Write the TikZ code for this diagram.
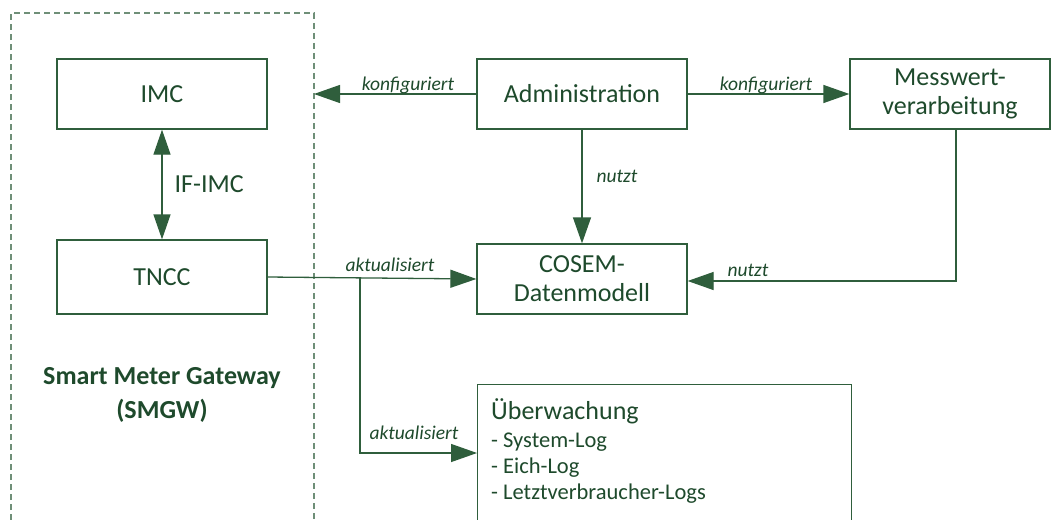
\documentclass[tikz,border=0pt]{standalone}
\usepackage{fontspec}
\setmainfont{Carlito}
\usetikzlibrary{arrows.meta,calc}
\definecolor{tgreen}{HTML}{1E4A2C}
\definecolor{lgreen}{HTML}{2F5E3C}
\definecolor{dgreen}{HTML}{6F8F78}
\begin{document}
\begin{tikzpicture}[x=1pt,y=-1pt,
  box/.style={draw=lgreen,line width=1.3pt,minimum width=210pt,minimum height=70pt,inner sep=0pt,
    text=tgreen,font=\fontsize{26}{29}\selectfont,align=center},
  lbl/.style={text=tgreen,font=\fontsize{19.5}{22}\selectfont\itshape,inner sep=0pt},
  conn/.style={draw=lgreen,line width=1.3pt,-{Triangle[length=26pt,width=18pt]}},
  conn2/.style={draw=lgreen,line width=1.3pt,{Triangle[length=25pt,width=17pt]}-{Triangle[length=25pt,width=17pt]}}
]
\useasboundingbox (0,0) rectangle (1051,519);
\clip (0,0) rectangle (1051,519);
\fill[white] (0,0) rectangle (1051,519);
% dashed gateway frame
\draw[dgreen,line width=1.3pt,dash pattern=on 6pt off 4pt] (11,530) -- (11,13) -- (314,13) -- (314,530);
\node[box] (imc) at (162,94) {IMC};
\node[box,minimum height=74pt] (tncc) at (162,277) {TNCC};
\node[box] (adm) at (582,94) {Administration};
\node[box,minimum width=200pt] (mess) at (950,94) {Messwert-\\verarbeitung};
\node[box] (cosem) at (582,279) {COSEM-\\Datenmodell};
\node[box,anchor=north west,minimum width=374pt,minimum height=170pt] (ueb) at (477,384) {};
\node[anchor=north west,inner sep=0pt,align=left,text=tgreen,font=\fontsize{22.5}{26}\selectfont] (uetext) at (491,398)
  {{\fontsize{26}{28}\selectfont Überwachung}\\[2pt]
   - System-Log\\
   - Eich-Log\\
   - Letztverbraucher-Logs};
\node[text=tgreen,font=\fontsize{26}{34}\selectfont\bfseries,align=center,inner sep=0pt] (smgw) at (162,395)
  {Smart Meter Gateway\\(SMGW)};
% coordinates
\coordinate (imcin) at (314,94);
\coordinate (br) at (360,278);
\coordinate (uein) at (477,453);
\coordinate (messout) at (956,129);
% connectors
\draw[conn2] (imc.south) -- (tncc.north) node[midway,right=12pt,text=tgreen,font=\fontsize{26}{30}\selectfont,inner sep=0pt] (ifimc) {IF-IMC};
\draw[conn] (adm.west) -- (imcin);
\draw[conn] (adm.east) -- (mess.west);
\draw[conn] (adm.south) -- (cosem.north);
\draw[conn] (tncc.east) -- (cosem.west);
\draw[conn] (br) |- (uein);
\draw[conn] (messout) |- ($(cosem.east)+(0,2)$);
% labels
\node[lbl] (l1) at (408,85) {konfiguriert};
\node[lbl] (l2) at (766,85) {konfiguriert};
\node[lbl] (l3) at (617,176) {nutzt};
\node[lbl] (l4) at (748,270) {nutzt};
\node[lbl] (l5) at (390,265) {aktualisiert};
\node[lbl] (l6) at (414,433) {aktualisiert};
\end{tikzpicture}
\end{document}
